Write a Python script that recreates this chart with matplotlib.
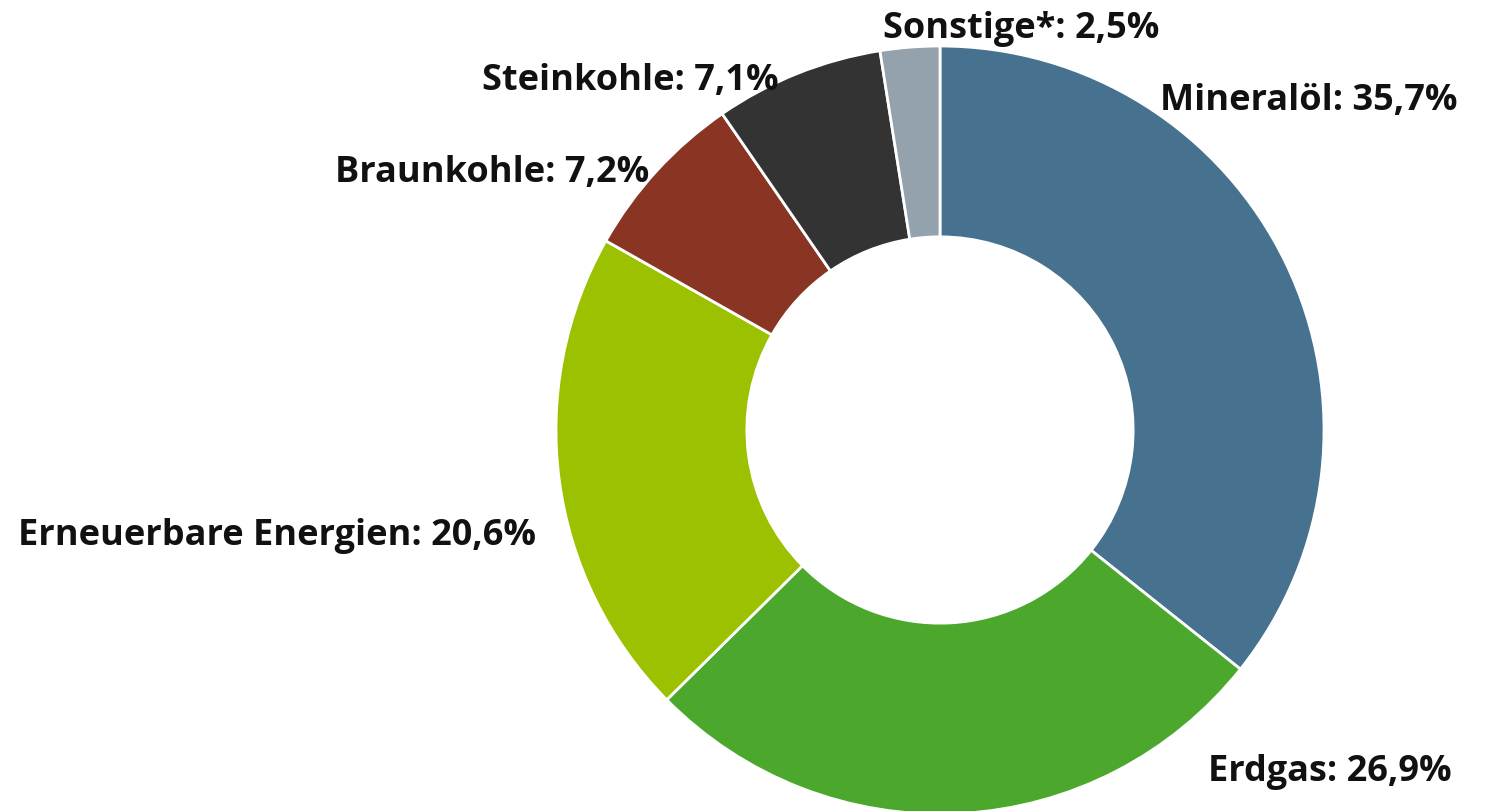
import matplotlib
matplotlib.use("Agg")
import matplotlib.pyplot as plt

categories = ["Mineralöl", "Erdgas", "Erneuerbare Energien", "Braunkohle", "Steinkohle", "Sonstige*"]
values = [35.7, 26.9, 20.6, 7.2, 7.1, 2.5]
value_labels = ["35,7%", "26,9%", "20,6%", "7,2%", "7,1%", "2,5%"]
colors = ["#46718F", "#4BA82D", "#9CC100", "#8A3524", "#333333", "#94A2AD"]

W, H = 1488, 811
fig = plt.figure(figsize=(W / 100, H / 100), dpi=100)
ax = fig.add_axes([0, 0, 1, 1])
ax.set_xlim(0, W)
ax.set_ylim(0, H)
ax.set_aspect("equal")
ax.axis("off")

R = 384
ax.pie(values, colors=colors, startangle=90, counterclock=False,
       center=(940, H - 430), radius=R,
       wedgeprops=dict(width=R * 0.497, edgecolor="white", linewidth=2))
ax.set_xlim(0, W)
ax.set_ylim(0, H)

# label anchors (pixels: left x, baseline y from top)
label_pos = [(1160, 110), (1208, 781), (18, 545), (335, 182), (482, 90), (883, 38)]
for cat, lab, (x, y) in zip(categories, value_labels, label_pos):
    ax.text(x, H - y, f"{cat}: {lab}", ha="left", va="baseline",
            fontsize=26, fontweight="bold", family="Open Sans", color="#111111")

fig.savefig("out.png", dpi=100)
